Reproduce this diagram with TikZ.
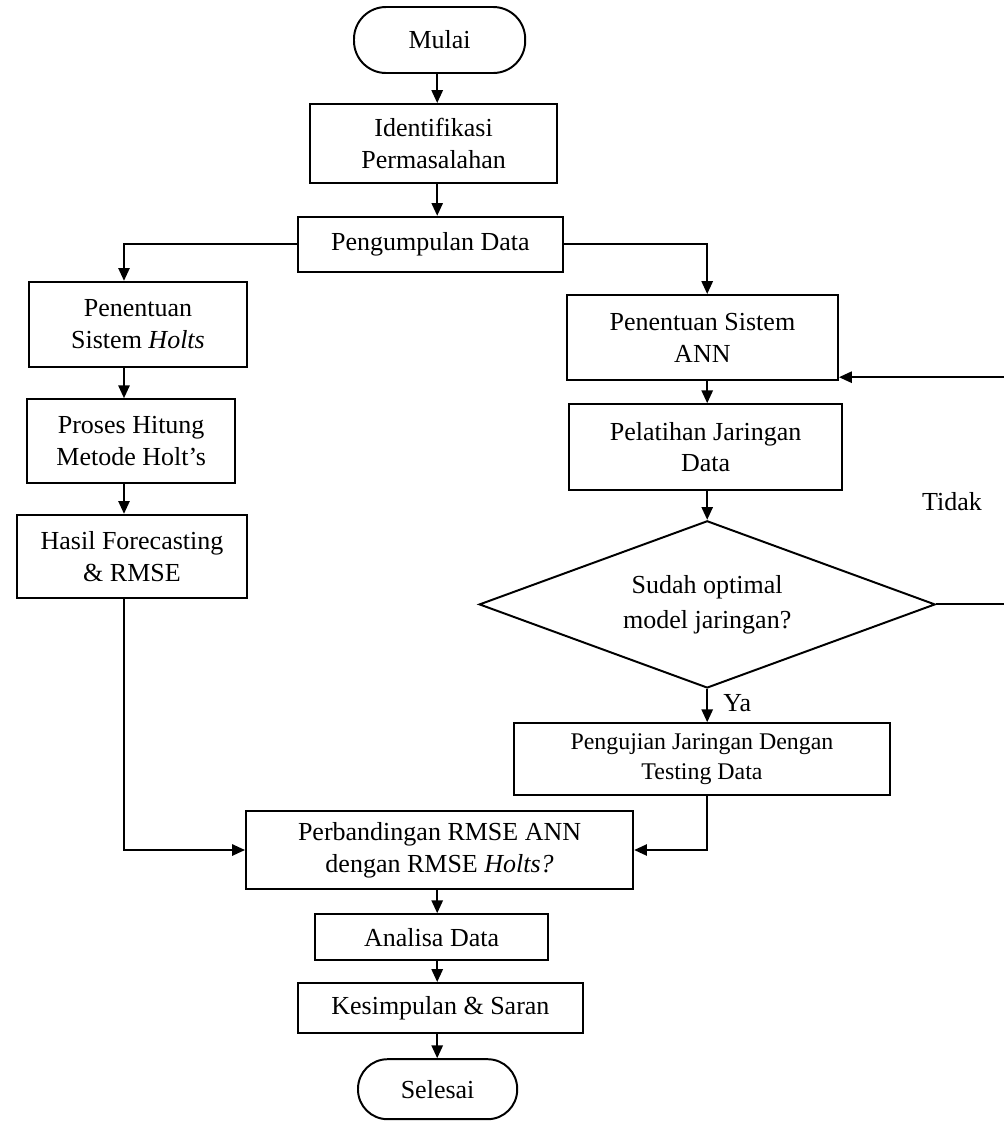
\documentclass[tikz,border=0pt]{standalone}
\usepackage{fontspec}
\setmainfont{Liberation Serif}
\usetikzlibrary{positioning, shapes.geometric, arrows.meta}

\begin{document}
\begin{tikzpicture}[
    flowTerm/.style={draw=black, line width=1.4pt, rectangle, rounded corners=0.8cm, align=center, font=\fontsize{18.5}{22.5}\selectfont, inner sep=0pt},
    flowBox/.style={draw=black, line width=1.4pt, rectangle, align=center, font=\fontsize{18.5}{22.5}\selectfont, inner sep=0pt},
    flowDecision/.style={draw=black, line width=1.4pt, diamond, aspect=2.7, align=center, font=\fontsize{18.5}{25}\selectfont, inner sep=0pt},
    flowLine/.style={draw=black, line width=1.4pt, -{Triangle[length=0.32cm, width=0.28cm]}},
    flowLabel/.style={font=\fontsize{18.5}{22.5}\selectfont, inner sep=0pt},
]
\useasboundingbox (0,0) rectangle (25.1,-28.1);
% columns of the connectors
\coordinate (lcol) at (3.1, 0);
\coordinate (mcol) at (10.93, 0);
\coordinate (rcol) at (17.68, 0);
\coordinate (fb)   at (25.2, 0);

\node[flowTerm, minimum width=4.28cm, minimum height=1.65cm] (mulai) at (10.99, -1.0) {Mulai};
\node[flowBox, minimum width=6.18cm, minimum height=1.98cm] (ident) at (10.84, -3.59) {Identifikasi\\Permasalahan};
\node[flowBox, minimum width=6.63cm, minimum height=1.38cm] (kumpul) at (10.76, -6.11) {Pengumpulan Data};

% Holts
\node[flowBox, minimum width=5.45cm, minimum height=2.13cm] (holts) at (3.45, -8.11) {Penentuan\\Sistem \textit{Holts}};
\node[flowBox, minimum width=5.2cm, minimum height=2.1cm] (hitung) at (3.28, -11.03) {Proses Hitung\\Metode Holt’s};
\node[flowBox, minimum width=5.75cm, minimum height=2.08cm] (hasil) at (3.3, -13.91) {Hasil Forecasting\\\& RMSE};

% ANN
\node[flowBox, minimum width=6.78cm, minimum height=2.13cm] (ann) at (17.56, -8.44) {Penentuan Sistem\\ANN};
\node[flowBox, minimum width=6.83cm, minimum height=2.15cm] (latih) at (17.64, -11.18) {Pelatihan Jaringan\\Data};
\node[flowDecision, minimum width=11.4cm, minimum height=4.18cm] (optimal) at (17.68, -15.11) {Sudah optimal\\model jaringan?};
\node[flowBox, minimum width=9.4cm, minimum height=1.8cm, font=\fontsize{17}{21.5}\selectfont] (uji) at (17.55, -18.98) {Pengujian Jaringan Dengan\\Testing Data};
\node[flowLabel] (ya) at (18.43, -17.58) {Ya};
\node[flowLabel] (tidak) at (23.8, -12.55) {Tidak};

\node[flowBox, minimum width=9.68cm, minimum height=1.95cm] (banding) at (10.99, -21.25) {Perbandingan RMSE ANN\\dengan RMSE \textit{Holts?}};
\node[flowBox, minimum width=5.83cm, minimum height=1.15cm] (analisa) at (10.79, -23.43) {Analisa Data};
\node[flowBox, minimum width=7.13cm, minimum height=1.25cm] (simpul) at (11.01, -25.2) {Kesimpulan \& Saran};
\node[flowTerm, minimum width=3.98cm, minimum height=1.5cm, rounded corners=0.74cm] (selesai) at (10.94, -27.23) {Selesai};

\draw[flowLine] (mulai.south -| mcol) -- (ident.north -| mcol);
\draw[flowLine] (ident.south -| mcol) -- (kumpul.north -| mcol);
\draw[flowLine] (kumpul.west) -| (holts.north -| lcol);
\draw[flowLine] (kumpul.east) -| (ann.north -| rcol);
\draw[flowLine] (holts.south -| lcol) -- (hitung.north -| lcol);
\draw[flowLine] (hitung.south -| lcol) -- (hasil.north -| lcol);
\draw[flowLine] (hasil.south -| lcol) |- (banding.west);
\draw[flowLine] (ann.south -| rcol) -- (latih.north -| rcol);
\draw[flowLine] (latih.south -| rcol) -- (optimal.north);
\draw[flowLine] (optimal.south) -- (uji.north -| rcol);
\draw[flowLine] (optimal.east) -- (optimal.east -| fb) |- ([yshift=0.1cm]ann.south east);
\draw[flowLine] (uji.south -| rcol) |- (banding.east);
\draw[flowLine] (banding.south -| mcol) -- (analisa.north -| mcol);
\draw[flowLine] (analisa.south -| mcol) -- (simpul.north -| mcol);
\draw[flowLine] (simpul.south -| mcol) -- (selesai.north -| mcol);
\end{tikzpicture}
\end{document}
